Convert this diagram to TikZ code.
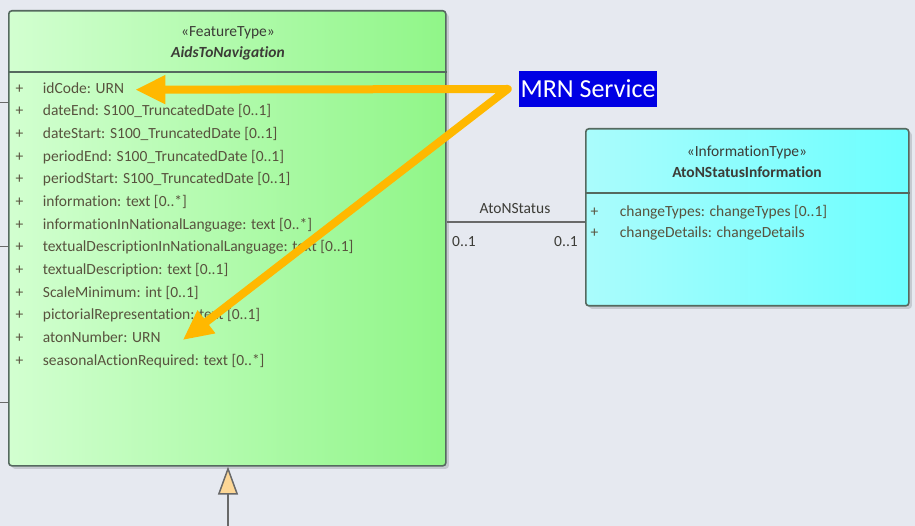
\documentclass[tikz,border=0pt]{standalone}
\usepackage{fontspec}
\setmainfont{Carlito}[Ligatures=NoCommon]
\usetikzlibrary{matrix, positioning, arrows.meta, shadows}

\definecolor{bgc}{RGB}{230,233,240}
\definecolor{greenL}{RGB}{210,255,208}
\definecolor{greenR}{RGB}{144,246,136}
\definecolor{cyanL}{RGB}{170,252,252}
\definecolor{cyanR}{RGB}{108,255,255}
\definecolor{boxline}{RGB}{85,105,95}
\definecolor{shadowc}{RGB}{198,201,208}
\definecolor{attrc}{RGB}{88,82,62}
\definecolor{headc}{RGB}{60,60,55}
\definecolor{mrnorange}{RGB}{255,184,0}
\definecolor{mrnblue}{RGB}{0,0,228}
\definecolor{peach}{RGB}{253,215,150}
\definecolor{linec}{RGB}{105,105,105}

\begin{document}
\begin{tikzpicture}[x=1pt, y=-1pt, font=\fontsize{15.5}{18}\selectfont,
    classbox/.style={draw=boxline, line width=1.6pt, rounded corners=3pt, inner sep=0pt,
      anchor=north west, drop shadow={shadow xshift=3pt, shadow yshift=-3pt, fill=shadowc, opacity=1}},
    sepline/.style={draw=boxline, line width=1.4pt},
    attrlist/.style={matrix of nodes, anchor=north west, inner sep=0pt,
      nodes={inner sep=0pt, text height=11pt, text depth=4pt, anchor=west, text=attrc}},
    mrnline/.style={draw=mrnorange, line width=8pt, line join=round,
      {Triangle[length=30pt, width=27pt]}-{Triangle[length=30pt, width=27pt]}},
    genline/.style={draw=linec, line width=1.5pt, -{Triangle[length=28pt, width=20pt, fill=peach]}},
    assoc/.style={draw=linec, line width=1.2pt},
    tickline/.style={draw=linec, line width=1pt}]
  \fill[bgc] (0,0) rectangle (915,526);
  \useasboundingbox (0,0) rectangle (915,526);

  \node[classbox, left color=greenL, right color=greenR, minimum width=437pt, minimum height=455pt] (aton) at (8,10) {};
  \draw[sepline] (aton.west |- 0,72) -- (aton.east |- 0,72);
  \node[text=headc] (atonstereo) at (228,33) {«FeatureType»};
  \node[text=headc] (atonname) at (228,53) {\bfseries\itshape AidsToNavigation};
  \matrix (attr) [attrlist, row sep=7.67pt, column sep=19.5pt] at (15.5,82) {
    + & idCode: URN \\
    + & dateEnd: S100\_TruncatedDate [0..1] \\
    + & dateStart: S100\_TruncatedDate [0..1] \\
    + & periodEnd: S100\_TruncatedDate [0..1] \\
    + & periodStart: S100\_TruncatedDate [0..1] \\
    + & information: text [0..*] \\
    + & informationInNationalLanguage: text [0..*] \\
    + & textualDescriptionInNationalLanguage: text [0..1] \\
    + & textualDescription: text [0..1] \\
    + & ScaleMinimum: int [0..1] \\
    + & pictorialRepresentation: text [0..1] \\
    + & atonNumber: URN \\
    + & seasonalActionRequired: text [0..*] \\
  };

  \node[classbox, left color=cyanL, right color=cyanR, minimum width=323pt, minimum height=177pt] (status) at (585,128) {};
  \draw[sepline] (status.west |- 0,193) -- (status.east |- 0,193);
  \node[text=headc] (statusstereo) at (747,152) {«InformationType»};
  \node[text=headc] (statusname) at (747,172) {\bfseries AtoNStatusInformation};
  \matrix (sattr) [attrlist, row sep=5.5pt, column sep=21.5pt] at (590.5,205.5) {
    + & changeTypes: changeTypes [0..1] \\
    + & changeDetails: changeDetails \\
  };

  \draw[assoc] (aton.east |- 0,222) -- (status.west |- 0,222);
  \node[text=headc] (rolename) at (515,209) {AtoNStatus};
  \node[text=headc] (multsrc) at (464,242) {0..1};
  \node[text=headc] (multdst) at (566,242) {0..1};

  \draw[tickline] (aton.west |- 0,103) -- ++(-9,0);
  \draw[tickline] (aton.west |- 0,247) -- ++(-9,0);
  \draw[tickline] (aton.west |- 0,402) -- ++(-9,0);

  \coordinate (genfoot) at (228,526);
  \draw[genline] (genfoot) -- (genfoot |- aton.south);

  \node[fill=mrnblue, text=white, font=\fontsize{26}{30}\selectfont, inner sep=0pt,
    minimum width=138pt, minimum height=36pt] (mrn) at (588,89) {MRN Service};
  \coordinate[left=11pt of mrn.west] (src);
  \draw[mrnline] ([xshift=11pt]attr-1-2.east) -- (src) -- ([xshift=22pt,yshift=-1pt]attr-12-2.east);
\end{tikzpicture}
\end{document}
